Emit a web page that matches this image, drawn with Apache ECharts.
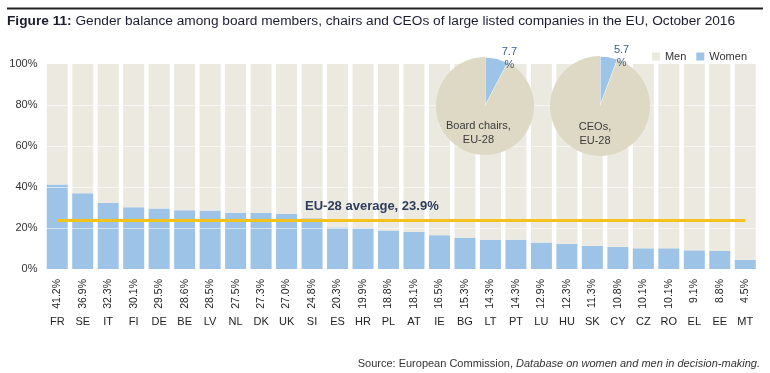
<!DOCTYPE html>
<html><head><meta charset="utf-8">
<script src="https://cdn.jsdelivr.net/npm/echarts@6/dist/echarts.min.js"></script>
<style>html,body{margin:0;padding:0;background:#fff}#c{width:770px;height:373px}</style>
</head><body><div id="c"></div>
<script>
var categories = ['FR','SE','IT','FI','DE','BE','LV','NL','DK','UK','SI','ES','HR','PL','AT','IE','BG','LT','PT','LU','HU','SK','CY','CZ','RO','EL','EE','MT'];
var women = [41.2,36.9,32.3,30.1,29.5,28.6,28.5,27.5,27.3,27.0,24.8,20.3,19.9,18.8,18.1,16.5,15.3,14.3,14.3,12.9,12.3,11.3,10.8,10.1,10.1,9.1,8.8,4.5];
var men = [58.8,63.1,67.7,69.9,70.5,71.4,71.5,72.5,72.7,73.0,75.2,79.7,80.1,81.2,81.9,83.5,84.7,85.7,85.7,87.1,87.7,88.7,89.2,89.9,89.9,90.9,91.2,95.5];
var euAverage = 23.9;
var yTicks = [0,20,40,60,80,100];
var chairsWomen = 7.7, chairsMen = 92.3;
var ceoWomen = 5.7, ceoMen = 94.3;

var FONT = 'Liberation Sans';
var C_MEN = '#ece9e1', C_WOMEN = '#9dc3e6', C_PIE_MEN = '#ddd9c4', C_AVG = '#f4c11d';
var chart = echarts.init(document.getElementById('c'));

function pieSeries(name, label, w, m, cx, r) {
  return {
    type: 'pie', name: name, center: [cx, 106], radius: r, startAngle: 90, clockwise: true,
    silent: true, z: 5,
    labelLine: {show: false, length: 0, length2: 0},
    data: [
      {name: 'Women', value: w, itemStyle: {color: C_WOMEN, borderColor: '#fff', borderWidth: 1},
        label: {show: true, position: 'outside', formatter: '{a|' + w + '}\n{a|%}',
          rich: {a: {fontFamily: FONT, fontSize: 11, color: '#3d5d8c', align: 'center', lineHeight: 13}}}},
      {name: 'Men', value: m, itemStyle: {color: C_PIE_MEN},
        label: {show: true, position: 'inside', formatter: label,
          fontFamily: FONT, fontSize: 11, color: '#3a3a3a', lineHeight: 14, align: 'center'}}
    ]
  };
}

chart.setOption({
  animation: false,
  textStyle: {fontFamily: FONT},
  grid: {left: 44.5, right: 12, top: 64, bottom: 104, containLabel: false},
  legend: {
    data: ['Men', 'Women'], right: 18, top: 46, itemWidth: 8, itemHeight: 8, itemGap: 10,
    icon: 'rect', textStyle: {fontFamily: FONT, fontSize: 11, color: '#333'}
  },
  xAxis: [{
    type: 'category', data: categories, position: 'bottom',
    axisLine: {show: false}, axisTick: {show: false},
    axisLabel: {interval: 0, rotate: 90, margin: 10, fontSize: 10.5, color: '#222',
      formatter: function (v, i) { return women[i].toFixed(1) + '%'; }}
  }, {
    type: 'category', data: categories, position: 'bottom',
    axisLine: {show: false}, axisTick: {show: false},
    axisLabel: {interval: 0, margin: 47, fontSize: 11, color: '#222'}
  }],
  yAxis: {
    type: 'value', min: 0, max: 100, interval: 20,
    axisLine: {show: false}, axisTick: {show: false}, splitLine: {show: false},
    axisLabel: {margin: 7, fontSize: 11, color: '#333', formatter: function (v) { return v + '%'; }}
  },
  series: [{
    name: 'Women', type: 'bar', stack: 's', data: women, barWidth: 21,
    itemStyle: {color: C_WOMEN}, silent: true,
    markLine: {
      silent: true, symbol: 'none', label: {show: false},
      lineStyle: {color: 'rgba(255,255,255,0.55)', width: 1, type: 'solid'},
      data: yTicks.slice(1, 5).map(function (t) { return {yAxis: t}; })
    }
  }, {
    name: 'Men', type: 'bar', stack: 's', data: men, barWidth: 21,
    itemStyle: {color: C_MEN}, silent: true,
    markLine: {
      silent: true, symbol: 'none', z: 6,
      lineStyle: {color: C_AVG, width: 3, type: 'solid'},
      label: {show: false},
      data: [[{xAxis: 0, yAxis: euAverage}, {xAxis: categories.length - 1, yAxis: euAverage}]]
    }
  },
    pieSeries('Board chairs', 'Board chairs,\nEU-28', chairsWomen, chairsMen, 485, 49),
    pieSeries('CEOs', 'CEOs,\nEU-28', ceoWomen, ceoMen, 600, 50)
  ],
  graphic: [
    {type: 'rect', shape: {x: 7, y: 7.5, width: 756, height: 2}, style: {fill: '#222'}},
    {type: 'text', left: 7, top: 14, style: {
      text: '{b|Figure 11:} Gender balance among board members, chairs and CEOs of large listed companies in the EU, October 2016',
      fontFamily: FONT, fontSize: 13.7, fill: '#1c1c30',
      rich: {b: {fontFamily: FONT, fontSize: 13.7, fontWeight: 'bold', fill: '#1c1c30'}}}},
    {type: 'text', left: 305, top: 200, z: 10, style: {
      text: 'EU-28 average, 23.9%', fontFamily: FONT, fontSize: 13, fontWeight: 'bold', fill: '#2e3d5c'}},
    {type: 'text', right: 10, top: 358, style: {
      text: 'Source: European Commission, {i|Database on women and men in decision-making.}',
      fontFamily: FONT, fontSize: 11, fill: '#333',
      rich: {i: {fontFamily: FONT, fontSize: 11, fontStyle: 'italic', fill: '#333'}}}}
  ]
});
</script></body></html>
